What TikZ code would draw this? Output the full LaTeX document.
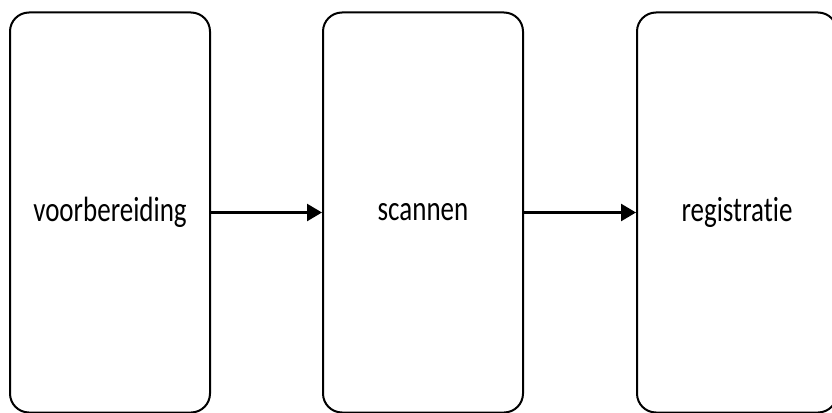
\documentclass[tikz,border=0pt]{standalone}
\usepackage{fontspec}
\setmainfont{Carlito}[Ligatures=NoCommon]
\usetikzlibrary{arrows.meta}
\begin{document}
\begin{tikzpicture}[x=1pt,y=-1pt,
  stage/.style={draw=black, line width=2pt, rounded corners=19pt, minimum width=200pt, minimum height=400pt, inner sep=0pt},
  lbl/.style={font=\fontsize{27}{30}\selectfont, inner sep=0pt},
  flow/.style={line width=2.5pt, -{Triangle[length=15pt,width=17pt]}}]
\useasboundingbox (0,0) rectangle (832,412);
\node[stage] (a) at (110,212.5) {};
\node[stage] (b) at (423,212.5) {};
\node[stage] (c) at (737,212.5) {};
\node[lbl] at (a.center) {\scalebox{1}[1.3]{voorbereiding}};
\node[lbl] at (b.center) {\scalebox{1}[1.3]{scannen}};
\node[lbl] at (c.center) {\scalebox{1}[1.3]{registratie}};
\draw[flow] (a.east) -- (b.west);
\draw[flow] (b.east) -- (c.west);
\end{tikzpicture}
\end{document}
